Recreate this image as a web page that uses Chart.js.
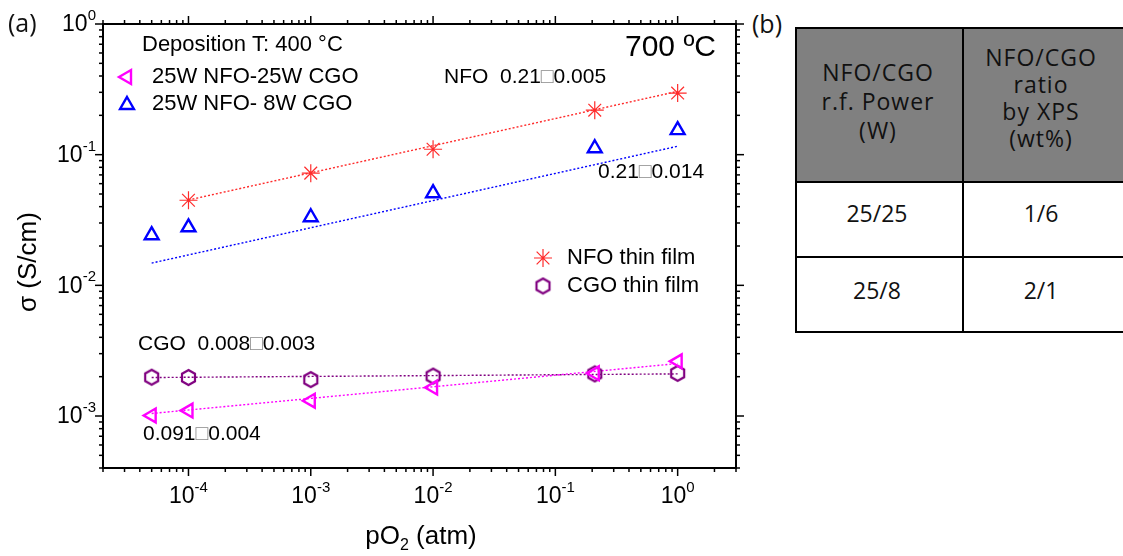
<!DOCTYPE html>
<html>
<head>
<meta charset="utf-8">
<script src="https://cdn.jsdelivr.net/npm/chart.js@4.4.0/dist/chart.umd.min.js"></script>
<style>
  body { margin: 0; background: #fff; width: 1123px; height: 556px; overflow: hidden; position: relative; }
  #wrap { position: absolute; left: 0; top: 0; width: 750px; height: 556px; }
  .tb { position: absolute; font-family: 'Open Sans', sans-serif; color: #111; text-align: center; white-space: nowrap; }
  .hl { position: absolute; background: #000; height: 2px; left: 795px; width: 328px; }
  .vl { position: absolute; background: #000; width: 2px; top: 27px; height: 306px; }
</style>
</head>
<body>
<div id="wrap"><canvas id="sigmaChart" width="750" height="556"></canvas></div>

<!-- panel (b): composition table -->
<div class="tb" style="left:752px;top:6px;font-size:25px;">(b)</div>
<div style="position:absolute;left:796px;top:28px;width:327px;height:154px;background:#808080;"></div>
<div class="hl" style="top:27px"></div>
<div class="hl" style="top:181px"></div>
<div class="hl" style="top:256px"></div>
<div class="hl" style="top:331px"></div>
<div class="vl" style="left:795px"></div>
<div class="vl" style="left:962px"></div>
<div id="cells"></div>

<script>
// pO2 (atm) where the films were measured
const pO2 = [5e-5, 1e-4, 1e-3, 1e-2, 0.21, 1];
const pO2Nfo = [1e-4, 1e-3, 1e-2, 0.21, 1];

// conductivity sigma (S/cm)
const sigmaNfo = [0.0448, 0.0722, 0.110, 0.219, 0.296];
const sigma25w8w = [0.0242, 0.0278, 0.0332, 0.0507, 0.112, 0.154];
const sigma25w25w = [1.01e-3, 1.10e-3, 1.31e-3, 1.65e-3, 2.12e-3, 2.62e-3];
const sigmaCgo = [1.98e-3, 1.97e-3, 1.90e-3, 2.02e-3, 2.10e-3, 2.12e-3];

// dotted fit lines (end points)
const fitNfoX = [1e-4, 1], fitNfoY = [0.045, 0.305];
const fit8wX = [5e-5, 1], fit8wY = [0.0148, 0.116];
const fit25wX = [5e-5, 1], fit25wY = [1.045e-3, 2.52e-3];
const fitCgoX = [5e-5, 1], fitCgoY = [1.97e-3, 2.10e-3];

// axis tick exponents
const xTickExp = [-4, -3, -2, -1, 0];
const yTickExp = [-3, -2, -1, 0];

// table (b)
const tableHead = [['NFO/CGO', 'r.f. Power', '(W)'], ['NFO/CGO', 'ratio', 'by XPS', '(wt%)']];
const tablePower = ['25/25', '25/8'];
const tableRatio = ['1/6', '2/1'];

const RED = '#ff2b2b', BLUE = '#0000ff', PINK = '#ff00ff', PURPLE = '#800080';
const FONT = "'Liberation Sans', Arial, sans-serif";

function pts(xs, ys) { return xs.map((x, i) => ({ x: x, y: ys[i] })); }

function hexagon(r, color) {
  const c = document.createElement('canvas');
  const s = Math.ceil(r * 2 + 4);
  c.width = s; c.height = s;
  const g = c.getContext('2d');
  g.strokeStyle = color;
  g.lineWidth = 2.2;
  g.beginPath();
  for (let i = 0; i < 6; i++) {
    const a = Math.PI / 3 * i - Math.PI / 2;
    const px = s / 2 + Math.cos(a) * r, py = s / 2 + Math.sin(a) * r;
    i ? g.lineTo(px, py) : g.moveTo(px, py);
  }
  g.closePath();
  g.stroke();
  return c;
}
const hexImg = hexagon(7.5, PURPLE);

function fitLine(xs, ys, color) {
  return { data: pts(xs, ys), showLine: true, borderColor: color, borderWidth: 1.4,
    borderDash: [2, 2], pointRadius: 0, fill: false };
}

// text helpers
function txt(ctx, s, x, y, size, align, color) {
  ctx.font = size + 'px ' + FONT;
  ctx.fillStyle = color || '#000';
  ctx.textAlign = align || 'left';
  ctx.textBaseline = 'middle';
  ctx.fillText(s, x, y);
  return ctx.measureText(s).width;
}
function rich(ctx, parts, x, y, size) {
  let cx = x;
  parts.forEach(p => { cx += txt(ctx, p[0], cx, y, size, 'left', p[1]); });
}
function pow10(ctx, e, x, y, align) {
  ctx.font = '23px ' + FONT;
  const wb = ctx.measureText('10').width;
  ctx.font = '15px ' + FONT;
  const we = ctx.measureText(String(e)).width;
  let left = x;
  if (align === 'right') left = x - wb - we;
  if (align === 'center') left = x - (wb + we) / 2;
  txt(ctx, '10', left, y, 23, 'left');
  txt(ctx, String(e), left + wb, y - 9, 15, 'left');
}

const axesPlugin = {
  id: 'axesPlugin',
  afterDraw(chart) {
    const ctx = chart.ctx, a = chart.chartArea;
    const xs = chart.scales.x, ys = chart.scales.y;
    ctx.save();
    ctx.strokeStyle = '#000';
    ctx.lineWidth = 1.5;
    const line = (x1, y1, x2, y2) => { ctx.beginPath(); ctx.moveTo(x1, y1); ctx.lineTo(x2, y2); ctx.stroke(); };
    for (let e = -5; e <= 0; e++) {
      for (let m = 1; m <= 9; m++) {
        const v = m * Math.pow(10, e);
        const len = m === 1 ? 8 : 4;
        if (v >= xs.min * 0.999 && v <= xs.max * 1.001) {
          const px = xs.getPixelForValue(v);
          line(px, a.bottom, px, a.bottom + len);
          line(px, a.top, px, a.top - len);
        }
        if (v >= ys.min * 0.999 && v <= ys.max * 1.001) {
          const py = ys.getPixelForValue(v);
          line(a.left - len, py, a.left, py);
          line(a.right, py, a.right + len, py);
        }
      }
    }
    ctx.lineWidth = 2;
    ctx.strokeRect(a.left, a.top, a.right - a.left, a.bottom - a.top);

    xTickExp.forEach(e => pow10(ctx, e, xs.getPixelForValue(Math.pow(10, e)), 497, 'center'));
    yTickExp.forEach(e => pow10(ctx, e, 96, ys.getPixelForValue(Math.pow(10, e)) + 1, 'right'));

    // axis titles
    ctx.font = '26px ' + FONT;
    const w1 = ctx.measureText('pO').width, w2 = ctx.measureText(' (atm)').width;
    ctx.font = '16px ' + FONT;
    const ws = ctx.measureText('2').width;
    let tx = 421 - (w1 + ws + w2) / 2;
    txt(ctx, 'pO', tx, 537, 26);
    txt(ctx, '2', tx + w1, 546, 16);
    txt(ctx, ' (atm)', tx + w1 + ws, 537, 26);
    ctx.save();
    ctx.translate(29, 262);
    ctx.rotate(-Math.PI / 2);
    txt(ctx, '\u03c3 (S/cm)', 0, 0, 26, 'center');
    ctx.restore();

    ctx.save();
    ctx.font = "25px 'Open Sans', sans-serif";
    ctx.fillStyle = '#111';
    ctx.textBaseline = 'middle';
    ctx.textAlign = 'left';
    ctx.fillText('(a)', 8, 25);
    ctx.restore();

    // annotations
    const grey = '#8a8a8a';
    txt(ctx, 'Deposition T: 400 \u00b0C', 142, 45, 22);
    txt(ctx, '25W NFO-25W CGO', 152, 77, 22);
    txt(ctx, '25W NFO- 8W CGO', 152, 104, 22);
    txt(ctx, '700 \u00baC', 716, 48, 30, 'right');
    rich(ctx, [['NFO  0.21'], ['\u25a1', grey], ['0.005']], 444, 77, 21);
    rich(ctx, [['0.21'], ['\u25a1', grey], ['0.014']], 598, 172, 21);
    rich(ctx, [['CGO  0.008'], ['\u25a1', grey], ['0.003']], 138, 344, 21);
    rich(ctx, [['0.091'], ['\u25a1', grey], ['0.004']], 143, 434, 21);
    txt(ctx, 'NFO thin film', 567, 258, 22);
    txt(ctx, 'CGO thin film', 567, 286, 22);

    // legend markers (hollow)
    const dp = Chart.helpers.drawPoint;
    ctx.fillStyle = 'rgba(0,0,0,0)';
    ctx.lineWidth = 2.4; ctx.strokeStyle = PINK;
    dp(ctx, { pointStyle: 'triangle', rotation: -90, radius: 8, borderWidth: 2.4 }, 127, 77);
    ctx.strokeStyle = BLUE;
    dp(ctx, { pointStyle: 'triangle', rotation: 0, radius: 8, borderWidth: 2.4 }, 127, 105);
    ctx.lineWidth = 1.2; ctx.strokeStyle = RED;
    dp(ctx, { pointStyle: 'star', rotation: 0, radius: 9, borderWidth: 1.2 }, 543, 258);
    dp(ctx, { pointStyle: hexImg, rotation: 0, radius: 8, borderWidth: 1 }, 543, 286);
    ctx.restore();
  }
};

new Chart(document.getElementById('sigmaChart').getContext('2d'), {
  type: 'scatter',
  data: {
    datasets: [
      { label: 'NFO thin film', data: pts(pO2Nfo, sigmaNfo), pointStyle: 'star', pointRadius: 9,
        borderColor: RED, backgroundColor: RED, borderWidth: 1.2 },
      { label: '25W NFO- 8W CGO', data: pts(pO2, sigma25w8w), pointStyle: 'triangle', pointRadius: 8,
        borderColor: BLUE, backgroundColor: 'transparent', borderWidth: 2.4 },
      { label: '25W NFO-25W CGO', data: pts(pO2, sigma25w25w), pointStyle: 'triangle', pointRotation: -90,
        pointRadius: 8, borderColor: PINK, backgroundColor: 'transparent', borderWidth: 2.4 },
      { label: 'CGO thin film', data: pts(pO2, sigmaCgo), pointStyle: hexImg, pointRadius: 8,
        borderColor: PURPLE, backgroundColor: 'transparent' },
      fitLine(fitNfoX, fitNfoY, RED),
      fitLine(fit8wX, fit8wY, BLUE),
      fitLine(fit25wX, fit25wY, PINK),
      fitLine(fitCgoX, fitCgoY, PURPLE)
    ]
  },
  options: {
    responsive: false,
    animation: false,
    layout: { padding: { left: 103, top: 24, right: 14, bottom: 88 } },
    scales: {
      x: { type: 'logarithmic', min: 2e-5, max: 3, display: false },
      y: { type: 'logarithmic', min: 4e-4, max: 1, display: false }
    },
    plugins: { legend: { display: false }, tooltip: { enabled: false } }
  },
  plugins: [axesPlugin]
});

// fill the table text
const cells = document.getElementById('cells');
function cell(s, cx, cy, size, spacing) {
  const d = document.createElement('div');
  d.className = 'tb';
  d.textContent = s;
  d.style.left = (cx - 100) + 'px';
  d.style.width = '200px';
  d.style.top = (cy - 17) + 'px';
  d.style.lineHeight = '34px';
  d.style.fontSize = size + 'px';
  d.style.letterSpacing = spacing + 'px';
  cells.appendChild(d);
}
tableHead[0].forEach((s, i) => cell(s, 878, 72 + i * 29, 23, 1));
tableHead[1].forEach((s, i) => cell(s, 1041, 57 + i * 27, 23, 1));
tablePower.forEach((s, i) => cell(s, 877, 213 + i * 77, 23, 0));
tableRatio.forEach((s, i) => cell(s, 1041, 213 + i * 77, 23, 0));
</script>
</body>
</html>
